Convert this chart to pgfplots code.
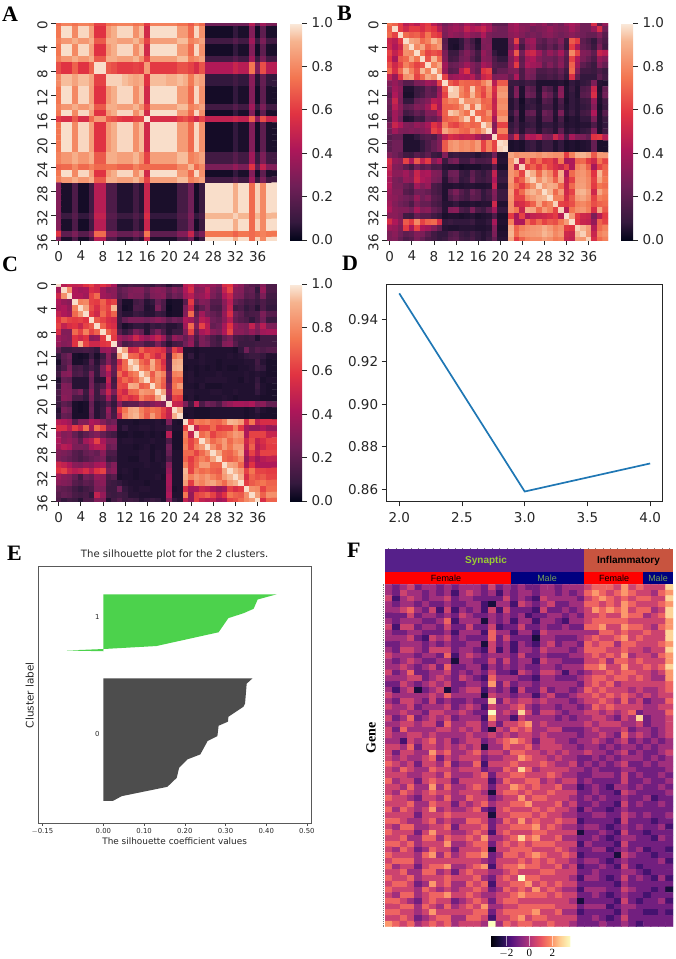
\documentclass[border=0pt]{standalone}
\usepackage{pgfplots}
\pgfplotsset{compat=1.18}
\usepackage{fontspec}
\setmainfont{DejaVu Sans}
\newfontfamily\lsr{Liberation Serif}
\newfontfamily\las{Liberation Sans}
\pgfplotsset{colormap={rocket}{rgb255(0cm)=(3,5,26) rgb255(1cm)=(53,25,62) rgb255(3cm)=(112,31,87) rgb255(5cm)=(173,23,89) rgb255(7cm)=(225,51,66) rgb255(9cm)=(243,118,81) rgb255(11cm)=(246,180,143) rgb255(12cm)=(250,235,221)}}
\pgfplotsset{colormap={magma}{rgb255=(0,0,4) rgb255=(28,16,68) rgb255=(81,18,124) rgb255=(131,38,129) rgb255=(183,55,121) rgb255=(231,82,99) rgb255=(252,137,97) rgb255=(254,207,146) rgb255=(252,253,191)}}
\newtoks\hmtoks \newcount\hmx \newcount\hmy \newcount\hmcols
\def\hmstart#1{\hmtoks={}\hmy=0 \hmcols=#1\relax}
\def\hmadd#1{\ifnum\hmx<\hmcols\edef\hmlast{#1}\edef\hmtmp{\the\hmtoks (\the\hmx,\the\hmy)[#1] }\hmtoks=\expandafter{\hmtmp}\advance\hmx by 1 \fi}
\def\hmpad{\ifnum\hmx<\hmcols \hmadd{\hmlast}\expandafter\hmpad\fi}
\def\hmscan#1 {\ifx;#1\hmpad\else\hmadd{#1}\expandafter\hmscan\fi}
\def\R#1;{\hmx=0 \hmscan#1 ; \advance\hmy by 1 }
% panel A: correlation, in percent
\def\Ao{\R 72 78 78 74 78 78 76 62 62 74 76 78 78 78 74 76 60 78 78 78 78 78 74 74 68 78 72 25 25 25 25 25 25 25 25 45 22 38 28 28;}
\def\Ap{\R 75 98 98 80 97 97 86 58 58 84 90 97 97 97 82 93 53 98 98 98 98 98 85 85 72 97 82 03 03 03 03 03 08 04 04 30 03 20 04 04;}
\def\Am{\R 78 84 84 90 84 84 90 68 68 90 90 86 86 86 92 82 62 86 86 86 86 86 93 93 78 82 87 12 12 12 12 12 18 12 12 38 10 28 12 12;}
\def\Aq{\R 80 93 93 87 93 93 87 62 62 96 96 96 93 90 87 90 58 93 93 93 90 90 93 90 76 90 86 08 08 08 08 08 12 08 08 32 06 22 08 08;}
\def\Ar{\R 65 58 58 70 58 58 70 98 98 68 65 60 60 60 62 60 85 60 60 60 60 60 66 66 62 55 66 43 43 43 43 43 50 45 45 75 30 65 45 45;}
\def\As{\R 60 55 55 68 55 55 72 85 85 68 65 60 58 58 62 62 99 55 55 55 55 55 62 66 60 52 62 48 48 48 48 48 52 48 48 70 35 65 50 50;}
\def\At{\R 70 72 72 80 72 72 78 72 72 74 74 70 70 70 78 72 72 72 72 72 72 72 80 80 92 72 80 28 28 28 28 28 35 28 28 58 22 48 30 30;}
\def\AL{\R 30 04 04 15 03 03 12 45 45 15 15 05 05 05 12 06 50 04 04 04 04 04 13 13 25 03 10 98 98 98 98 98 90 98 98 72 96 80 98 98;}
\def\Ay{\R 28 10 10 18 08 08 16 48 48 18 18 10 10 10 16 10 55 08 08 08 08 08 16 16 28 08 14 92 92 92 92 92 96 92 92 72 92 80 92 92;}
\def\Az{\R 58 20 20 28 18 18 28 72 72 30 30 22 22 22 28 22 75 20 20 20 20 20 30 30 50 18 28 75 75 75 75 75 70 75 75 72 75 78 75 75;}
\hmstart{40}
\Ao\Ap\Ap\Am\Ap\Ap\Am\Ar\Ar\Aq\Aq\Ap\Ap\Ap\Am\Ap\As\Ap\Ap\Ap\Ap\Ap\Am\Am\At\Ap\Am\AL\AL\AL\AL\AL\Ay\AL\AL\Az\AL
\edef\coordsA{\the\hmtoks}
% panel B
\hmstart{40}
\R 75 70 60 45 50 45 55 60 45 35 25 30 35 30 40 35 30 40 35 20 20 20 35 40 30 30 35 30 35 25 30 25 35 40 35 25 25 55 20 35;
\R 70 98 60 52 60 60 55 62 58 45 30 35 38 35 48 42 45 50 40 28 25 25 35 38 32 30 25 28 30 35 30 28 30 38 32 25 25 35 55 25;
\R 72 62 98 72 68 70 62 75 62 58 28 35 32 30 38 32 30 42 28 25 25 25 32 35 30 25 28 25 30 32 28 25 28 32 28 25 22 22 30 18;
\R 50 45 60 98 88 85 72 78 92 82 18 05 05 08 20 12 05 30 28 05 05 05 28 62 20 35 38 22 18 25 22 30 12 68 60 20 15 08 22 15;
\R 52 42 52 85 98 80 88 70 78 85 20 05 04 08 22 15 06 28 30 05 05 05 25 40 12 30 35 18 15 22 15 25 10 60 40 22 18 10 28 12;
\R 62 48 58 82 80 98 75 62 66 62 28 10 10 22 30 22 12 35 28 08 05 05 35 68 25 48 52 38 25 35 28 40 22 80 62 30 28 20 50 45;
\R 58 40 68 72 88 75 98 66 92 72 30 12 14 25 28 18 10 32 30 15 08 08 30 45 20 38 42 30 25 25 22 30 18 62 42 28 22 15 35 30;
\R 65 52 62 78 70 62 66 98 78 88 38 22 24 30 38 30 24 40 35 18 15 15 32 60 22 42 38 35 22 30 22 32 18 70 38 20 15 10 30 22;
\R 72 55 72 92 78 66 92 78 98 82 35 18 20 45 58 30 22 58 62 15 22 22 28 30 15 30 28 15 15 18 15 22 12 72 30 12 12 10 15 10;
\R 48 35 58 82 85 62 72 88 82 98 62 35 38 42 40 45 30 50 55 28 30 30 22 42 15 28 25 12 12 15 12 18 08 55 20 08 08 08 20 12;
\R 30 35 28 18 18 28 30 38 35 62 98 68 62 72 70 70 68 78 88 45 68 68 10 10 08 12 10 05 05 05 05 06 04 08 06 08 10 28 06 05;
\R 25 38 32 05 05 10 12 22 18 35 68 98 95 80 70 95 72 65 80 55 82 82 08 28 05 22 18 05 20 15 06 30 05 10 05 15 18 50 05 22;
\R 20 42 30 04 04 10 14 22 20 38 62 95 95 78 72 92 74 62 78 52 85 85 08 30 05 25 22 06 28 22 08 32 05 08 05 18 20 55 06 25;
\R 25 50 28 08 08 22 25 30 45 42 72 80 78 96 82 82 85 70 72 48 80 80 06 12 03 10 08 05 18 15 05 15 04 08 06 10 12 35 05 12;
\R 22 45 32 20 22 30 28 38 58 40 70 70 72 82 96 74 96 74 70 50 82 82 06 12 04 08 10 06 12 12 05 12 05 08 06 08 10 30 04 10;
\R 22 38 30 12 15 22 18 30 30 45 70 95 92 82 74 98 72 70 82 48 78 78 08 22 04 20 22 06 24 20 06 28 06 10 06 12 14 42 05 18;
\R 18 38 25 05 06 12 10 24 22 30 68 72 74 85 96 72 98 72 75 40 85 85 05 15 04 12 12 05 18 18 05 14 04 06 05 08 08 28 05 10;
\R 28 50 42 30 28 35 32 40 58 50 78 65 62 70 74 70 72 98 88 30 62 62 08 14 06 08 10 05 08 08 06 10 05 06 05 06 06 15 05 08;
\R 25 38 30 28 30 28 30 35 62 55 88 80 78 72 70 82 75 88 98 35 78 78 10 18 06 15 14 06 14 12 06 20 06 08 06 08 10 30 05 12;
\R 18 22 22 05 05 08 15 18 15 28 45 55 52 48 50 48 40 30 35 98 62 62 28 55 18 45 42 48 30 28 52 38 15 40 30 28 22 58 60 45;
\R 20 25 25 05 05 05 08 15 22 30 68 82 85 80 82 78 85 62 78 62 98 96 04 05 04 08 10 06 10 10 05 08 04 05 04 05 06 22 04 04;
\R 20 25 25 05 05 05 08 15 22 30 68 82 85 80 82 78 85 62 78 62 96 98 04 05 04 08 10 06 10 10 05 08 04 05 04 05 06 22 04 04;
\R 30 25 20 12 10 18 14 20 10 08 30 08 10 08 08 08 06 08 10 25 05 05 88 82 84 84 85 82 86 84 82 82 60 78 90 92 88 68 85 85;
\R 55 35 32 62 42 68 48 60 30 40 10 24 28 12 12 20 14 14 16 55 06 06 82 96 48 78 62 72 60 62 52 75 40 42 70 72 60 52 74 62;
\R 50 30 28 20 12 25 18 22 14 15 06 05 05 03 04 04 04 06 06 18 04 04 84 48 96 62 70 60 72 62 55 50 62 42 78 82 70 40 62 70;
\R 45 32 32 38 30 50 40 42 30 28 08 24 25 10 08 20 12 08 14 48 08 08 84 78 62 96 90 72 88 80 62 90 42 72 82 84 78 58 92 72;
\R 40 28 25 35 32 52 42 38 28 25 06 18 22 08 10 22 12 10 14 42 10 10 85 62 70 90 96 82 92 85 70 88 48 62 84 85 80 62 88 75;
\R 42 28 28 22 18 38 30 35 15 12 05 05 06 05 06 06 05 05 06 48 06 06 82 72 60 72 82 96 85 90 88 72 50 72 85 86 80 60 75 72;
\R 38 30 30 18 15 25 25 22 15 12 05 20 28 18 12 24 18 08 14 30 10 10 86 60 72 88 92 85 98 92 72 85 52 62 90 92 85 52 88 78;
\R 35 32 28 25 22 35 25 30 18 15 05 15 22 15 12 20 18 08 12 28 10 10 84 62 62 80 85 90 92 98 78 78 55 68 85 88 82 62 78 75;
\R 38 30 25 22 15 28 22 22 15 12 06 06 08 05 05 06 05 06 06 52 05 05 82 52 55 62 70 88 72 78 96 62 60 65 78 80 76 65 70 72;
\R 42 32 30 30 25 40 30 32 22 18 06 30 32 15 12 28 14 10 20 38 08 08 82 75 50 90 88 72 85 78 62 96 45 75 82 84 78 55 88 68;
\R 32 32 28 12 10 22 18 18 12 08 04 05 05 04 05 06 04 05 06 15 04 04 60 40 62 42 48 50 52 55 60 45 98 85 60 52 50 28 45 60;
\R 55 42 32 68 60 80 62 70 72 55 08 10 08 08 08 10 06 06 08 40 05 05 78 42 42 72 62 72 62 68 65 75 85 98 58 50 48 35 70 62;
\R 38 35 28 60 40 62 42 38 30 20 06 05 05 06 06 06 05 05 06 30 04 04 90 70 78 82 84 85 90 85 78 82 60 58 96 92 85 45 72 78;
\R 28 32 25 20 22 30 28 20 12 08 08 15 18 10 08 12 08 06 08 28 05 05 92 72 82 84 85 86 92 88 80 84 52 50 92 96 84 50 78 82;
\R 28 30 22 15 18 28 22 15 12 08 10 18 20 12 10 14 08 06 10 22 06 06 88 60 70 78 80 80 85 82 76 78 50 48 85 84 96 55 72 78;
\edef\coordsB{\the\hmtoks}
% panel C
\hmstart{40}
\R 98 45 50 48 50 58 62 52 58 52 40 12 10 14 12 12 10 08 14 12 06 10 10 45 50 35 38 36 35 30 55 58 38 32 22 18 15 30 15;
\R 40 98 82 42 38 40 55 52 38 30 32 20 24 28 30 30 22 30 32 30 22 30 25 42 55 30 32 45 30 25 48 62 32 30 20 22 08 35 15;
\R 52 82 98 42 42 38 62 72 38 35 32 18 22 30 28 28 18 28 30 32 18 25 22 38 45 32 35 42 28 22 42 50 30 28 18 20 12 28 12;
\R 42 35 32 98 78 80 62 60 70 58 62 12 04 04 12 15 06 08 22 15 03 04 04 18 60 22 30 28 18 18 32 45 22 18 12 14 10 15 10;
\R 40 42 35 78 98 88 65 55 68 62 92 10 03 04 15 14 05 06 28 14 02 04 04 28 50 12 20 28 15 14 30 48 12 15 08 12 06 15 08;
\R 48 42 38 72 85 98 60 52 72 60 70 10 06 06 10 08 06 06 10 08 03 04 04 30 72 20 38 26 22 18 35 55 25 20 12 14 15 28 18;
\R 58 68 62 60 62 58 98 68 62 55 52 12 22 28 28 28 25 28 32 28 20 25 22 42 38 25 45 40 25 22 32 45 22 18 15 08 15 25 10;
\R 62 48 55 58 50 62 68 98 70 58 55 10 04 06 08 08 06 10 08 10 06 06 08 38 72 30 62 45 22 25 40 58 35 30 28 48 30 45 28;
\R 55 30 30 72 62 78 62 70 98 70 62 18 08 14 28 22 06 18 28 15 06 10 10 30 62 22 40 45 32 28 42 62 32 32 28 35 28 38 40;
\R 38 32 30 58 52 58 32 35 60 98 60 38 32 38 52 42 35 42 50 38 15 35 30 22 32 15 28 22 15 10 22 28 14 12 10 12 05 12 12;
\R 35 30 32 58 90 62 52 52 58 60 98 28 14 18 22 22 14 15 28 15 06 12 14 25 35 12 28 25 15 12 30 32 18 10 10 10 12 12 12;
\R 20 10 10 12 12 14 12 08 35 38 28 98 88 52 55 70 60 62 60 55 28 62 50 05 05 04 05 05 05 05 05 05 04 08 25 12 18 15 18;
\R 08 20 25 04 03 04 10 04 10 32 14 85 98 72 70 58 72 62 52 62 15 75 82 05 08 04 06 05 05 05 05 06 05 06 08 10 10 08 05;
\R 04 18 22 04 04 06 18 06 15 30 18 52 72 98 92 72 65 90 70 55 18 88 90 05 05 05 06 05 05 04 05 05 05 05 06 06 12 06 04;
\R 08 15 28 12 14 08 14 08 28 52 22 60 72 92 98 78 72 88 72 60 18 90 92 04 05 04 05 04 05 04 05 04 04 05 05 06 10 08 04;
\R 12 30 32 14 16 10 28 08 26 42 20 72 60 72 78 98 88 68 85 78 25 78 80 05 06 04 05 05 05 06 05 05 05 05 06 05 06 05 04;
\R 05 22 20 06 06 06 24 06 06 48 12 62 72 65 72 88 98 72 82 70 22 72 70 05 06 05 05 06 06 06 06 05 05 04 06 05 08 04 05;
\R 08 30 28 06 06 06 26 10 16 42 15 64 62 90 88 68 72 98 80 68 28 75 85 05 05 04 06 04 04 04 05 05 05 05 05 05 10 05 04;
\R 15 30 30 22 28 10 32 10 28 50 28 60 52 70 72 85 82 80 98 88 35 72 72 06 06 05 05 05 06 06 05 05 06 05 05 05 08 05 04;
\R 12 32 30 14 14 08 28 10 14 38 15 55 62 55 60 78 70 68 88 98 28 62 60 05 06 04 05 05 05 05 06 05 04 05 05 05 05 04 04;
\R 10 20 16 04 03 04 22 06 08 18 08 32 18 20 20 28 24 30 35 30 98 50 48 28 10 45 15 25 22 15 30 35 40 40 38 42 30 32 22;
\R 06 28 24 04 03 04 24 06 10 35 12 60 75 88 90 78 70 75 72 62 50 98 90 05 05 04 04 04 05 05 05 05 05 05 04 05 08 05 04;
\R 08 22 20 04 04 04 22 06 10 30 14 48 80 88 92 80 68 85 72 60 48 90 98 04 05 04 04 04 05 05 05 05 05 05 04 05 06 04 04;
\R 45 42 38 18 30 30 42 38 30 22 25 05 05 05 04 05 05 05 06 05 28 05 04 98 62 78 75 78 72 70 78 92 90 85 55 75 48 55 55;
\R 55 55 45 60 50 72 38 72 62 32 35 05 08 05 05 06 06 05 06 06 10 05 05 62 98 48 62 62 72 60 62 62 78 60 40 35 35 42 35;
\R 38 30 32 22 14 20 25 30 22 15 12 04 04 05 04 04 05 04 05 04 45 04 04 78 48 98 72 78 62 70 72 78 85 82 42 62 62 62 50;
\R 42 32 35 30 20 38 45 62 40 28 28 05 06 06 05 05 05 06 05 05 15 04 04 75 62 72 98 85 72 78 85 72 80 78 52 65 48 55 62;
\R 38 45 42 28 28 26 40 45 45 22 25 05 05 05 04 05 06 04 05 05 25 04 04 78 62 78 85 98 82 72 85 75 85 85 48 70 45 52 60;
\R 30 28 25 18 15 22 25 22 32 15 15 05 05 05 05 06 06 04 06 05 22 05 05 72 72 62 72 82 98 88 72 70 78 88 42 62 48 62 62;
\R 28 25 22 18 14 18 22 25 28 10 12 05 05 04 04 06 06 04 06 05 15 05 05 70 60 70 78 72 88 98 72 68 72 80 35 48 38 45 48;
\R 52 48 42 32 30 35 32 40 42 22 30 05 05 05 05 05 06 05 05 06 30 05 05 78 62 72 85 85 72 72 98 88 85 72 40 58 42 42 42;
\R 58 62 50 45 48 55 45 58 62 28 32 05 06 05 04 05 05 05 05 05 35 05 05 92 62 78 72 75 70 68 88 98 92 85 62 75 62 62 60;
\R 38 32 30 22 12 25 22 35 32 14 18 04 05 05 04 05 05 05 06 04 40 05 05 90 78 85 80 85 78 72 85 92 98 90 55 70 65 68 62;
\R 32 30 28 18 15 20 18 30 32 12 10 08 06 05 05 05 04 05 05 05 40 05 05 85 60 82 78 85 88 80 72 85 90 98 60 68 72 75 70;
\R 22 20 18 12 08 12 15 28 28 10 10 25 08 06 05 06 06 05 05 05 38 04 05 55 40 42 52 48 42 35 40 62 55 60 98 82 80 62 72;
\R 18 22 20 14 12 14 08 48 35 12 10 12 10 06 06 05 05 05 05 05 42 05 05 75 35 62 65 70 62 48 58 75 70 68 82 98 85 70 82;
\R 15 08 12 10 06 15 15 30 28 05 12 18 10 12 10 06 08 10 08 05 30 08 06 48 35 62 48 45 48 38 42 62 65 72 80 85 98 55 70;
\edef\coordsC{\the\hmtoks}
% panel F: expression, on a 0 to 9 scale of the colour bar
\hmstart{39}
\R 4 3 4 5 3 4 4 3 4 3 4 4 4 3 5 3 4 3 4 3 3 4 4 3 4 4 4 5 6 6 6 5 7 5 6 5 5 5 8;
\R 4 3 5 4 4 3 4 3 4 2 4 5 4 3 4 2 4 3 4 4 3 4 4 3 4 3 4 6 7 6 5 6 7 6 5 5 4 6 7;
\R 5 2 4 5 4 3 4 4 5 3 4 4 3 3 3 3 5 3 4 3 2 5 4 4 4 4 3 5 6 7 6 5 6 5 6 6 5 5 8;
\R 4 3 4 4 3 4 3 3 4 3 3 4 4 2 1 4 4 2 5 4 3 4 5 3 3 4 4 6 6 5 6 5 7 6 5 5 5 6 7;
\R 4 4 5 6 4 3 5 2 5 2 4 3 4 2 5 2 5 3 3 3 2 5 3 3 4 3 4 5 7 6 7 6 7 5 6 6 4 5 8;
\R 3 3 3 5 3 4 4 3 4 3 5 4 3 3 4 3 4 3 4 2 3 3 4 4 3 4 3 5 5 6 5 5 7 6 6 4 5 6 8;
\R 4 3 4 4 4 3 3 4 6 2 4 4 4 1 4 3 4 2 4 4 2 4 4 3 2 4 4 5 6 6 6 6 6 5 5 5 5 5 7;
\R 5 2 5 5 3 4 4 3 5 3 3 5 3 3 5 2 3 3 5 3 3 4 3 3 4 3 3 6 6 7 5 5 7 6 6 5 4 6 7;
\R 4 3 3 4 4 3 3 3 4 2 4 4 4 2 6 4 4 2 4 4 2 5 4 4 4 4 4 4 4 6 6 5 6 5 5 6 5 5 8;
\R 4 4 4 5 3 2 5 4 5 3 4 3 3 3 6 3 5 3 3 3 1 4 4 3 3 3 4 5 6 5 5 6 7 5 6 5 5 5 8;
\R 3 3 4 4 4 3 4 3 4 3 3 4 4 1 5 3 4 2 4 3 2 4 5 3 4 4 3 6 5 6 6 4 6 6 5 5 5 6 7;
\R 4 3 5 5 4 3 5 5 5 3 4 4 3 2 5 2 4 2 4 4 3 5 4 4 4 3 4 6 6 6 5 5 6 5 5 4 5 5 8;
\R 5 4 4 4 3 4 4 3 6 2 4 5 4 3 4 4 4 3 5 3 3 4 3 3 3 4 4 5 6 5 6 5 7 4 5 5 4 6 7;
\R 4 3 4 5 4 3 3 4 4 1 4 4 3 3 5 3 5 3 4 4 2 5 4 4 3 3 3 5 5 6 4 6 6 5 6 5 5 5 7;
\R 4 4 5 4 3 4 5 3 6 3 3 4 4 2 4 3 4 3 4 3 3 4 4 3 4 4 4 6 6 7 5 5 7 5 5 6 5 6 8;
\R 5 3 4 6 3 3 4 4 5 3 4 3 4 3 5 3 3 2 5 4 3 5 5 4 2 4 3 4 5 5 6 5 6 6 5 5 4 5 7;
\R 4 4 4 5 5 3 4 5 4 3 5 4 3 2 6 4 4 4 3 3 2 4 4 3 3 3 4 5 6 6 5 6 6 5 6 5 4 4 7;
\R 3 3 5 4 3 4 5 4 5 3 3 4 4 3 7 3 5 3 4 4 3 4 4 4 4 4 3 5 6 5 6 4 5 5 5 5 5 5 6;
\R 4 2 4 5 1 3 4 5 1 3 4 5 5 2 4 3 4 2 5 3 3 5 3 4 4 3 4 6 5 6 5 5 5 4 5 4 4 5 6;
\R 5 4 4 4 4 4 5 4 6 4 4 4 4 1 5 4 4 3 4 4 2 4 5 3 3 4 5 5 6 5 6 5 6 5 4 5 4 5 5;
\R 4 3 5 5 4 3 5 3 4 3 3 4 3 3 8 3 5 4 5 5 4 5 4 4 4 3 4 5 5 6 5 4 6 4 5 3 4 4 6;
\R 5 4 4 5 3 4 4 4 5 3 4 5 4 2 5 4 4 5 6 4 3 4 4 3 4 4 3 4 6 5 6 5 5 5 5 4 4 5 5;
\R 4 4 5 4 4 3 5 5 4 4 5 4 3 3 9 4 5 4 8 5 3 5 5 4 3 4 4 5 5 4 5 4 5 6 3 4 4 4 6;
\R 5 3 4 6 3 4 5 4 5 3 4 4 4 2 7 4 4 2 5 4 4 4 4 3 4 3 4 4 5 5 4 3 5 4 8 3 4 4 5;
\R 4 4 5 5 4 5 5 3 6 4 4 5 5 3 5 3 5 5 6 7 4 5 4 4 4 4 4 5 4 5 5 5 4 4 5 3 4 4 5;
\R 5 3 6 4 4 4 4 5 5 4 5 4 5 3 1 5 4 6 5 6 4 4 5 5 3 3 3 4 5 4 4 4 5 3 4 4 3 4 5;
\R 5 4 4 5 5 4 5 4 4 4 4 5 4 4 5 4 5 4 5 5 4 5 4 4 4 4 3 4 4 5 4 3 6 4 5 4 3 4 5;
\R 4 4 2 5 4 5 6 4 5 3 4 5 5 3 4 5 6 7 6 5 3 5 5 4 4 3 4 4 5 4 3 4 5 3 4 3 4 3 4;
\R 5 5 4 6 3 5 5 4 5 4 5 4 5 1 4 4 6 5 5 6 4 5 5 5 4 4 3 4 4 3 4 3 4 4 3 4 3 4 4;
\R 5 3 5 5 4 4 7 5 6 4 4 5 6 4 5 5 4 6 6 5 5 4 5 4 5 4 4 5 4 4 3 4 5 3 4 3 3 4 5;
\R 5 4 5 4 4 5 6 3 5 4 5 5 5 3 4 4 5 5 7 6 5 5 4 5 4 4 3 3 4 3 4 3 4 4 4 3 4 3 4;
\R 6 5 4 5 3 5 5 4 6 3 4 4 6 2 5 5 5 6 5 5 5 6 5 4 4 5 3 4 3 4 3 4 5 3 3 4 3 4 4;
\R 5 4 6 5 4 4 6 5 5 4 5 5 5 3 4 4 6 5 8 6 4 5 5 5 5 4 4 3 4 3 3 3 4 4 3 3 3 3 4;
\R 5 5 5 4 4 5 5 4 6 4 4 4 5 6 3 5 5 6 6 5 5 5 6 5 4 4 3 3 4 4 4 3 5 3 4 3 3 4 3;
\R 6 4 5 5 3 5 6 5 5 3 5 5 5 5 2 4 6 5 5 6 6 4 5 4 5 5 3 4 3 3 3 3 5 3 3 4 3 3 4;
\R 5 5 4 6 4 4 7 4 6 4 4 5 6 5 3 5 5 7 6 5 6 5 5 6 4 4 2 3 4 3 2 4 4 3 4 3 3 4 3;
\R 5 4 6 5 4 5 6 5 5 4 5 5 5 4 1 5 6 6 5 6 5 5 6 5 5 5 3 3 4 3 3 2 5 4 3 3 3 3 4;
\R 6 5 5 4 3 5 5 4 6 4 4 6 5 5 3 4 5 5 7 5 6 6 5 5 5 4 3 4 3 4 3 3 4 3 3 4 2 3 3;
\R 5 5 5 6 4 4 6 5 5 3 5 4 5 6 4 5 5 6 6 7 5 5 5 6 4 5 3 3 4 3 3 2 5 3 4 3 3 4 3;
\R 6 4 6 5 4 5 7 4 5 4 4 5 6 3 2 5 6 5 5 5 6 5 6 5 5 4 2 4 3 3 2 3 4 3 3 3 3 3 3;
\R 5 5 5 5 3 5 5 5 6 5 5 5 5 5 1 5 5 6 6 6 5 6 5 5 4 4 3 3 4 4 3 3 5 4 3 4 3 3 4;
\R 6 6 5 4 4 5 6 4 5 4 4 6 6 5 3 4 6 5 7 5 6 5 5 6 5 5 2 3 3 3 3 2 5 3 3 3 2 3 3;
\R 5 4 6 6 4 4 5 5 6 3 5 5 5 6 3 5 5 6 6 6 7 5 6 5 4 4 3 4 4 3 2 3 4 3 4 3 3 4 2;
\R 6 5 5 5 3 5 7 5 5 4 4 5 6 5 2 5 6 5 5 5 6 6 5 5 5 5 1 3 3 4 3 2 5 3 3 2 3 3 3;
\R 5 5 6 4 4 6 6 4 6 5 5 6 5 7 4 4 5 6 8 6 7 5 5 6 4 4 3 3 4 3 2 3 4 4 3 3 2 4 3;
\R 6 6 5 6 4 5 5 5 7 4 4 5 6 6 3 5 6 5 6 5 6 6 6 5 5 5 2 4 3 3 3 2 5 3 3 3 3 3 3;
\R 5 4 6 5 3 4 6 5 5 3 5 5 5 6 1 5 5 6 6 6 5 5 5 6 5 4 3 3 4 4 2 3 4 3 4 2 3 3 2;
\R 6 5 5 5 4 6 7 4 6 4 5 6 6 7 3 4 6 6 5 6 7 6 5 5 6 5 2 3 3 3 3 1 5 4 3 3 2 3 3;
\R 5 6 6 6 4 5 5 5 5 5 5 5 5 4 3 5 5 5 6 5 6 5 6 5 5 4 3 4 4 3 2 3 4 3 3 3 3 4 2;
\R 6 4 5 5 3 5 6 6 7 4 4 5 6 7 2 5 6 6 7 6 6 5 5 6 4 5 2 3 3 4 3 2 5 3 2 3 3 3 3;
\R 5 5 6 4 4 6 6 4 5 3 5 6 5 5 4 4 5 6 5 5 5 6 6 5 5 5 3 3 4 3 3 3 4 4 3 2 3 3 3;
\R 6 5 5 6 4 5 5 5 6 5 5 5 6 4 3 5 6 5 9 6 6 5 5 5 5 4 2 4 4 3 2 3 5 3 4 3 2 4 2;
\R 5 6 6 5 3 4 7 5 6 4 4 6 5 6 2 5 5 6 6 7 5 6 5 6 5 5 3 3 3 3 3 2 4 3 3 3 3 3 3;
\R 6 5 5 5 4 6 5 4 5 4 5 5 6 5 3 4 6 5 6 5 7 5 6 5 4 4 2 4 4 4 3 3 5 4 3 3 2 3 1;
\R 5 4 6 6 4 5 6 6 7 5 5 6 5 4 4 5 5 6 7 6 6 6 5 6 5 5 3 3 4 3 2 3 4 3 3 2 3 3 3;
\R 6 6 5 4 3 5 6 5 5 3 4 5 6 5 3 5 6 6 5 5 5 5 5 5 5 4 1 3 3 3 3 2 5 3 2 3 3 4 2;
\R 5 5 6 6 4 6 5 4 6 4 5 6 5 7 4 4 5 5 6 6 6 6 6 5 5 5 3 4 4 4 2 3 4 4 3 3 3 3 3;
\R 6 6 5 5 4 5 7 5 5 5 5 5 6 6 3 5 6 6 6 6 7 5 5 6 4 4 2 3 3 3 3 2 4 3 3 2 2 3 2;
\R 5 5 6 5 3 4 5 6 6 4 4 6 6 5 2 5 5 6 7 5 6 6 5 5 5 5 3 3 4 3 2 3 5 3 3 3 3 3 3;
\R 7 6 5 6 4 5 6 5 6 4 5 5 5 4 9 4 6 5 6 6 5 5 6 5 5 4 3 3 3 4 3 3 4 3 2 3 3 3 3;
\edef\coordsF{\the\hmtoks}
\definecolor{tk}{HTML}{262626}
\definecolor{silgray}{HTML}{4D4D4D}
\definecolor{silgreen}{HTML}{4CD24C}
\pgfplotsset{
  tl/.style={tick label style={font=\fontsize{13.5}{14}\selectfont,text=tk}, /pgf/number format/assume math mode=true},
  hm/.style={tl, scale only axis, anchor=north west, width=221pt, height=217pt,
    xmin=-0.5, xmax=39.5, ymin=0, ymax=36, y dir=reverse,
    xtick={0,4,...,36}, ytick={0,4,...,36}, xtick pos=bottom, ytick pos=left,
    axis line style={draw=none}, tick align=outside, major tick length=5pt, tick style={color=tk,line width=0.8pt},
    xticklabel style={yshift=-2.5pt},
    yticklabel style={rotate=90,anchor=south,xshift=-2.5pt},
    colormap name=rocket, point meta min=0, point meta max=100, colorbar,
    colorbar style={at={(1.059,1)}, anchor=north west, width=12pt, height=217pt,
      ytick={0,20,40,60,80,100}, yticklabels={0.0,0.2,0.4,0.6,0.8,1.0}, ytick pos=right, yticklabel pos=right,
      axis line style={draw=none}, tick style={color=tk,line width=0.8pt}, major tick length=5pt, tick align=outside,
      yticklabel style={font=\fontsize{13.5}{14}\selectfont,text=tk,/pgf/number format/assume math mode=true,xshift=1pt}}},
  mp/.style={matrix plot*, mesh/cols=#1, point meta=explicit}
}
\begin{document}
\begin{tikzpicture}[x=1pt,y=1pt]
\path[use as bounding box] (0,0) rectangle (676,-959);
% A
\begin{axis}[hm, at={(56pt,-23pt)}]
\edef\tmp{\noexpand\addplot[mp=40] coordinates {\coordsA};}\tmp
\end{axis}
% B
\begin{axis}[hm, at={(387pt,-23pt)}]
\edef\tmp{\noexpand\addplot[mp=40] coordinates {\coordsB};}\tmp
\end{axis}
% C
\begin{axis}[hm, at={(56pt,-284pt)}]
\edef\tmp{\noexpand\addplot[mp=40] coordinates {\coordsC};}\tmp
\end{axis}
% D
\begin{axis}[tl, scale only axis, anchor=north west, at={(386.7pt,-284pt)}, width=276pt, height=217.3pt,
  xmin=1.9, xmax=4.1, ymin=0.8544, ymax=0.9566,
  xtick={2,2.5,3,3.5,4}, xticklabels={2.0,2.5,3.0,3.5,4.0}, ytick={0.86,0.88,0.90,0.92,0.94},
  yticklabels={0.86,0.88,0.90,0.92,0.94}, xtick pos=bottom, ytick pos=left, tick align=outside, major tick length=5pt,
  xticklabel style={yshift=-2.5pt},
  tick style={color=tk,line width=0.8pt}, axis line style={color=tk,line width=0.8pt}]
\addplot[color={rgb,255:red,31;green,119;blue,180}, line width=1.7pt, no markers] coordinates {(2,0.9522)(3,0.859)(4,0.8722)};
\end{axis}
% E
\begin{axis}[scale only axis, anchor=north west, at={(38.3pt,-566.7pt)}, width=272.7pt, height=257pt,
  xmin=-0.16, xmax=0.51, ymin=0, ymax=69,
  xtick={-0.15,0,0.1,0.2,0.3,0.4,0.5}, xticklabels={$-$0.15,0.00,0.10,0.20,0.30,0.40,0.50}, ytick=\empty,
  xtick pos=bottom, tick align=outside, major tick length=2pt, tick style={color=black!70,line width=0.5pt},
  axis line style={color=black!65,line width=0.9pt},
  xticklabel style={font=\fontsize{6.9}{7}\selectfont,text=tk,yshift=1pt},
  title={The silhouette plot for the 2 clusters.}, title style={font=\fontsize{10.1}{11}\selectfont,text=tk,yshift=-2.5pt},
  xlabel={The silhouette coefficient values}, xlabel style={font=\fontsize{8.9}{10}\selectfont,text=tk,yshift=3pt},
  ylabel={Cluster label}, ylabel style={font=\fontsize{10.5}{11}\selectfont,text=tk,yshift=-1pt}]
\addplot[fill=silgreen, draw=none] coordinates {(0,61.6)(0.426,61.6)(0.379,60.2)(0.369,57.7)(0.344,56.5)(0.307,55.2)(0.283,51.4)(0.13,47.7)(0,46.9)(-0.09,46.5)(0,46.3)} -- cycle;
\addplot[fill=silgray, draw=none] coordinates {(0,39)(0.366,39)(0.352,37.6)(0.348,32.3)(0.344,31.4)(0.307,28.7)(0.306,27.4)(0.283,26.3)(0.28,23.5)(0.256,22.2)(0.238,18.6)(0.207,17.3)(0.186,15)(0.18,12.3)(0.157,9.9)(0.045,7.4)(0.023,6.1)(0,6.1)} -- cycle;
\node[font=\fontsize{6.9}{7}\selectfont,text=tk] at (axis cs:-0.015,55.4) {1};
\node[font=\fontsize{6.9}{7}\selectfont,text=tk] at (axis cs:-0.015,24) {0};
\end{axis}
% F header
\begin{axis}[scale only axis, anchor=north west, at={(385pt,-549.3pt)}, width=288pt, height=35pt,
  xmin=-0.5, xmax=38.5, ymin=0, ymax=35, xtick={0,...,38}, xticklabels={}, ytick=\empty, xtick pos=top, tick align=outside, major tick length=1.5pt,
  tick style={color=gray,line width=0.5pt}, axis line style={draw=none}, clip=false, axis on top]
\fill[fill={rgb,255:red,86;green,32;blue,138}] (axis cs:-0.5,12.6) rectangle (axis cs:26.5,35);
\fill[fill={rgb,255:red,200;green,84;blue,63}] (axis cs:26.5,12.6) rectangle (axis cs:38.5,35);
\fill[red] (axis cs:-0.5,0) rectangle (axis cs:16.5,12.6);
\fill[fill={rgb,255:red,0;green,0;blue,128}] (axis cs:16.5,0) rectangle (axis cs:26.5,12.6);
\fill[red] (axis cs:26.5,0) rectangle (axis cs:34.5,12.6);
\fill[fill={rgb,255:red,0;green,0;blue,128}] (axis cs:34.5,0) rectangle (axis cs:38.5,12.6);
\end{axis}
\node[font=\las\bfseries\fontsize{10}{11}\selectfont,text={rgb,255:red,154;green,205;blue,50}] at (486,-561) {Synaptic};
\node[font=\las\bfseries\fontsize{10}{11}\selectfont,text=black] at (628.5,-561) {Inflammatory};
\node[font=\las\fontsize{9}{10}\selectfont,text=black] at (446,-578) {Female};
\node[font=\las\fontsize{9}{10}\selectfont,text={rgb,255:red,120;green,160;blue,85}] at (547,-578) {Male};
\node[font=\las\fontsize{9}{10}\selectfont,text=black] at (614,-578) {Female};
\node[font=\las\fontsize{9}{10}\selectfont,text={rgb,255:red,120;green,160;blue,85}] at (658,-578) {Male};
% F
\begin{axis}[scale only axis, anchor=north west, at={(385pt,-584.3pt)}, width=288pt, height=342.4pt,
  xmin=-0.5, xmax=38.5, ymin=-0.5, ymax=59.5, y dir=reverse, xtick=\empty, ytick=\empty, axis line style={draw=none},
  colormap name=magma, point meta min=0, point meta max=9, colorbar horizontal,
  colorbar style={at={(0.3656,-0.0272)}, anchor=north west, width=80pt, height=10pt, xtick={1.81,4.40,6.99}, xticklabels={$-$2,0,2},
    xtick pos=bottom, axis line style={draw=none}, tick align=inside, major tick length=10pt, tick style={color=white,line width=0.3pt,opacity=0.6},
    xticklabel style={font=\lsr\fontsize{11}{12}\selectfont,text=black,yshift=0pt}, ytick=\empty}]
\edef\tmp{\noexpand\addplot[mp=39] coordinates {\coordsF};}\tmp
\end{axis}
\draw[densely dotted, line width=1.2pt, color=gray] (383.5,-584.3) -- (383.5,-926.7);
\node[font=\lsr\bfseries\fontsize{14}{15}\selectfont,rotate=90] at (371,-738) {Gene};
% panel letters
\foreach \t/\x/\y in {A/2/21.7,B/337/20,C/2/271.7,D/342/270,E/7/560,F/347/557}
  \node[font=\lsr\bfseries\fontsize{22}{23}\selectfont,anchor=base west,inner sep=0pt] at (\x,-\y) {\t};
\end{tikzpicture}
\end{document}
